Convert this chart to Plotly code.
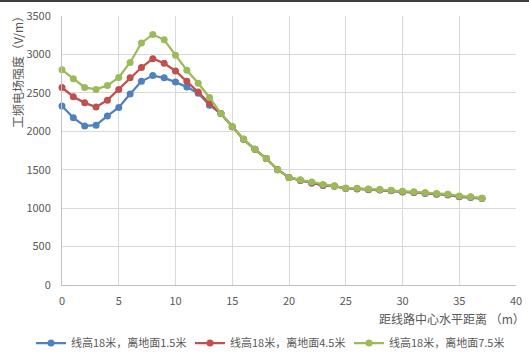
import plotly.graph_objects as go

x_vals = list(range(0, 38))
blue_vals = [2330, 2175, 2070, 2080, 2200, 2310, 2485, 2650, 2725, 2695, 2640, 2575, 2495, 2340, 2230, 2060, 1895, 1765, 1645, 1500,
             1400, 1360, 1325, 1295, 1285, 1255, 1250, 1240, 1235, 1225, 1210, 1205, 1192, 1180, 1172, 1148, 1140, 1125]
red_vals = [2570, 2450, 2370, 2315, 2405, 2545, 2695, 2830, 2945, 2885, 2785, 2650, 2510, 2360, 2230, 2060, 1895, 1765, 1645, 1500,
            1400, 1363, 1330, 1298, 1288, 1258, 1255, 1245, 1240, 1230, 1213, 1208, 1196, 1183, 1176, 1152, 1145, 1128]
green_vals = [2800, 2685, 2570, 2545, 2595, 2700, 2895, 3150, 3260, 3190, 2990, 2795, 2625, 2440, 2230, 2060, 1895, 1765, 1645, 1500,
              1400, 1368, 1340, 1308, 1288, 1258, 1258, 1248, 1243, 1234, 1220, 1212, 1200, 1190, 1182, 1158, 1148, 1130]
series_names = ["线高18米，离地面1.5米", "线高18米，离地面4.5米", "线高18米，离地面7.5米"]
colors = ["#4F81BD", "#C0504D", "#9BBB59"]
x_title = "距线路中心水平距离 （m）"
y_title = "工频电场强度（V/m）"

FONT = "Noto Sans CJK SC, Liberation Sans, sans-serif"
GRAY = "#595959"

W, H = 529, 354
L, R, T, B = 62, 13, 16, 69
pw, ph = W - L - R, H - T - B

fig = go.Figure()
for name, vals, col in zip(series_names, [blue_vals, red_vals, green_vals], colors):
    fig.add_trace(go.Scatter(
        x=x_vals, y=vals, mode="lines+markers", name=name,
        line=dict(color=col, width=2.25),
        marker=dict(color=col, size=7, symbol="circle"),
        cliponaxis=False,
    ))

fig.update_layout(
    width=W, height=H,
    margin=dict(l=L, r=R, t=T, b=B, pad=0, autoexpand=False),
    paper_bgcolor="white", plot_bgcolor="white",
    font=dict(family=FONT, size=11, color=GRAY),
    showlegend=True,
    legend=dict(
        orientation="h", x=(31 - L) / pw, xanchor="left",
        y=(H - B - 343) / ph, yanchor="middle",
        font=dict(size=11, color=GRAY, family=FONT),
        entrywidth=114, entrywidthmode="pixels",
        itemwidth=30, bgcolor="rgba(0,0,0,0)",
    ),
    xaxis=dict(
        range=[0, 40], tickvals=list(range(0, 41, 5)),
        showgrid=True, gridcolor="#D9D9D9", gridwidth=1,
        showline=True, linecolor="#BFBFBF", linewidth=1,
        zeroline=False, ticks="outside", ticklen=6, tickcolor="rgba(0,0,0,0)",
        tickfont=dict(size=11, color=GRAY), fixedrange=True, automargin=False,
    ),
    yaxis=dict(
        range=[0, 3500], tickvals=list(range(0, 3501, 500)),
        showgrid=True, gridcolor="#D9D9D9", gridwidth=1,
        showline=True, linecolor="#BFBFBF", linewidth=1,
        zeroline=False, ticks="outside", ticklen=8, tickcolor="rgba(0,0,0,0)",
        tickfont=dict(size=11, color=GRAY), fixedrange=True, automargin=False,
    ),
    annotations=[
        dict(text=x_title, xref="paper", yref="paper",
             x=(527 - L) / pw, xanchor="right",
             y=(H - B - 318) / ph, yanchor="middle",
             showarrow=False, font=dict(size=12, color=GRAY, family=FONT)),
        dict(text=y_title, xref="paper", yref="paper",
             x=(17 - L) / pw, xanchor="center",
             y=(H - B - 69) / ph, yanchor="middle", textangle=-90,
             showarrow=False, font=dict(size=12, color=GRAY, family=FONT)),
    ],
)

post = (
    "document.body.style.margin='0';document.body.style.overflow='hidden';"
    "var bar=document.createElement('div');"
    "bar.style.cssText='position:fixed;left:0;top:0;width:100%;height:2px;background:#404040;z-index:10;';"
    "document.body.appendChild(bar);"
)
fig.write_html("out.html", post_script=post, config={"displayModeBar": False})
